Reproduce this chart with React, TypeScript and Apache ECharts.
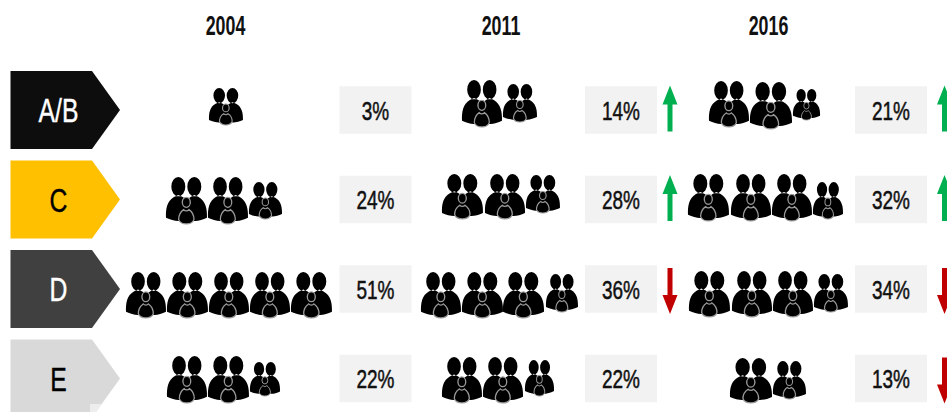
import React, { useEffect, useRef } from "react";
import * as echarts from "echarts";

// ---- values
const years = ["2004", "2011", "2016"];
const segments = ["A/B", "C", "D", "E"];
const sharesAB = [3, 14, 21];
const sharesC = [24, 28, 32];
const sharesD = [51, 36, 34];
const sharesE = [22, 22, 13];
const shares = [sharesAB, sharesC, sharesD, sharesE];
const trendAB = ["", "up", "up"];
const trendC = ["", "up", "up"];
const trendD = ["", "down", "down"];
const trendE = ["", "", "down"];
const trends = [trendAB, trendC, trendD, trendE];

// ---- layout (pixel-valued axes span the whole picture)
const W = 947;
const H = 412;
const rowPx = [110, 199.5, 289, 378.5];
const pxToRow = (y: number) => (y - rowPx[0]) / (rowPx[1] - rowPx[0]);
const headerX = [225.5, 501, 768.5];
const headerY = 26;
const boxX = [339.5, 585, 855];
const BOX_W = 72;
const BOX_H = 47.5;
const arrowX = [0, 670, 944.5];
const chevronColors = ["#0D0D0D", "#FFC000", "#404040", "#D9D9D9"];
const chevronText = ["#FFFFFF", "#000000", "#FFFFFF", "#000000"];
// icon boxes per segment/year: [left, centreY, width, height]
const iconBoxes: number[][][][] = [
  [
    [[209, 106.5, 34, 37]],
    [[462, 103.5, 40, 47], [503, 103, 34, 38]],
    [[709, 104, 40, 46], [750, 105.5, 42, 47], [793, 104.5, 27, 31]],
  ],
  [
    [[166, 200.5, 41, 47], [208, 200.5, 40, 47], [249, 200.5, 33, 37]],
    [[442, 196.5, 41, 45], [485, 196.5, 40, 45], [526, 194, 34, 38]],
    [[688, 197.5, 41, 47], [731, 197.5, 40, 47], [772, 197.5, 40, 47], [813, 200.5, 30, 37]],
  ],
  [
    [[126, 295, 40, 46], [167, 295, 41, 46], [209, 295, 40, 46], [250, 295, 40, 46], [291, 295, 41, 46]],
    [[421, 295, 40, 46], [462, 295, 41, 46], [503, 295, 41, 46], [546, 293, 32, 38]],
    [[689, 294, 41, 46], [732, 294, 40, 46], [773, 294, 40, 46], [814, 293, 34, 38]],
  ],
  [
    [[167, 379.5, 40, 47], [208, 379.5, 41, 47], [250, 379, 30, 34]],
    [[442, 380, 40, 46], [483, 380, 40, 46], [525, 378, 29, 36]],
    [[730, 380.5, 42, 45], [773, 380, 33, 38]],
  ],
];

const ICON_W = 123;
const ICON_H = 141;
const adultsPath =
  "M16,29 a21,29 0 1,0 42,0 a21,29 0 1,0 -42,0 Z " +
  "M64,29 a21,29 0 1,0 42,0 a21,29 0 1,0 -42,0 Z " +
  "M0,122 C-1,95 3,72 24,60 L37,54 L50,60 C56,64 60,68 62,72 C64,68 68,64 74,60 L85,54 L98,60 " +
  "C119,72 124,95 123,122 C112,128 98,131 88,132 L36,132 C26,131 12,128 0,122 Z";
const childPath =
  "M49,76 a12,15 0 1,0 24,0 a12,15 0 1,0 -24,0 Z " +
  "M38,128 C38,112 47,102 53,98 C57,103 65,103 69,98 C75,102 84,112 84,128 C80,138 70,141 61,141 C52,141 42,138 38,128 Z";
echarts.graphic.registerShape("peopleAdults", echarts.graphic.extendPath(adultsPath as any, {}) as any);
echarts.graphic.registerShape("peopleChild", echarts.graphic.extendPath(childPath as any, {}) as any);

const FONT = '"Liberation Sans", Arial, sans-serif';

function buildOption() {
  const iconData: number[][] = [];
  iconBoxes.forEach((row) =>
    row.forEach((cell) => cell.forEach((b) => iconData.push([b[0], pxToRow(b[1]), b[2], b[3]])))
  );
  const shareData: any[] = [];
  const arrowData: any[] = [];
  shares.forEach((row, r) =>
    row.forEach((v, c) => {
      shareData.push([boxX[c] + BOX_W / 2, r, v]);
      if (trends[r][c]) arrowData.push([arrowX[c], r, trends[r][c]]);
    })
  );
  return {
    animation: false,
    backgroundColor: "#FFFFFF",
    grid: { left: 0, top: 0, width: W, height: H, containLabel: false },
    xAxis: { type: "value", min: 0, max: W, show: false },
    yAxis: { type: "value", inverse: true, min: pxToRow(0), max: pxToRow(H), show: false },
    graphic: [
      {
        type: "polygon",
        z: 10,
        shape: { points: [[90, 404], [102, 404], [96, 412], [90, 412]] },
        style: { fill: "#EDEDED" },
      },
    ],
    series: [
      {
        type: "custom",
        coordinateSystem: "cartesian2d",
        silent: true,
        data: segments.map((_s, i) => [i]),
        renderItem: (_p: any, api: any) => {
          const i = api.value(0);
          const [x0, cy] = api.coord([10.5, i]);
          const h = 78;
          const pts = [
            [x0, cy - h / 2],
            [x0 + 81.5, cy - h / 2],
            [x0 + 109.5, cy],
            [x0 + 81.5, cy + h / 2],
            [x0, cy + h / 2],
          ];
          return {
            type: "group",
            children: [
              { type: "polygon", shape: { points: pts }, style: { fill: chevronColors[i] } },
              {
                type: "text",
                x: x0 + 48,
                y: cy + 1,
                scaleX: 0.75,
                style: {
                  text: segments[i],
                  font: `400 33px ${FONT}`,
                  fill: chevronText[i],
                  stroke: chevronText[i],
                  lineWidth: 0.4,
                  textAlign: "center",
                  textVerticalAlign: "middle",
                },
              },
            ],
          };
        },
      },
      {
        type: "custom",
        coordinateSystem: "cartesian2d",
        silent: true,
        data: shareData,
        renderItem: (_p: any, api: any) => {
          const [cx, cy] = api.coord([api.value(0), api.value(1)]);
          return {
            type: "group",
            children: [
              {
                type: "rect",
                shape: { x: cx - BOX_W / 2, y: cy - BOX_H / 2, width: BOX_W, height: BOX_H },
                style: { fill: "#F2F2F2" },
              },
              {
                type: "text",
                x: cx,
                y: cy + 0.5,
                scaleX: 0.73,
                style: {
                  text: `${api.value(2)}%`,
                  font: `400 26px ${FONT}`,
                  fill: "#111111",
                  stroke: "#111111",
                  lineWidth: 0.5,
                  textAlign: "center",
                  textVerticalAlign: "middle",
                },
              },
            ],
          };
        },
      },
      {
        type: "custom",
        coordinateSystem: "cartesian2d",
        silent: true,
        data: arrowData,
        renderItem: (_p: any, api: any) => {
          const [cx, cy] = api.coord([api.value(0), api.value(1)]);
          const up = api.value(2) === "up";
          const s = up ? -1 : 1;
          const dy = up ? -1.5 : 2;
          const half = 23;
          const pts = [
            [cx, cy + dy + s * half],
            [cx + 7.5, cy + dy + s * 4],
            [cx + 2.5, cy + dy + s * 4],
            [cx + 2.5, cy + dy - s * half],
            [cx - 2.5, cy + dy - s * half],
            [cx - 2.5, cy + dy + s * 4],
            [cx - 7.5, cy + dy + s * 4],
          ];
          return { type: "polygon", shape: { points: pts }, style: { fill: up ? "#00B050" : "#C00000" } };
        },
      },
      {
        type: "custom",
        coordinateSystem: "cartesian2d",
        silent: true,
        data: iconData,
        renderItem: (_p: any, api: any) => {
          const [x, cy] = api.coord([api.value(0), api.value(1)]);
          const w = api.value(2);
          const h = api.value(3);
          return {
            type: "group",
            x,
            y: cy - h / 2,
            scaleX: w / ICON_W,
            scaleY: h / ICON_H,
            children: [
              { type: "peopleAdults", style: { fill: "#000000" } },
              { type: "peopleChild", style: { fill: "#000000", stroke: "#9A9A9A", lineWidth: 4 } },
            ],
          };
        },
      },
      {
        type: "custom",
        coordinateSystem: "cartesian2d",
        silent: true,
        data: years.map((_y, i) => [headerX[i], pxToRow(headerY)]),
        renderItem: (p: any, api: any) => {
          const [x, y] = api.coord([api.value(0), api.value(1)]);
          return {
            type: "text",
            x,
            y,
            scaleX: 0.66,
            style: {
              text: years[p.dataIndex],
              font: `700 27px ${FONT}`,
              fill: "#111111",
              textAlign: "center",
              textVerticalAlign: "middle",
            },
          };
        },
      },
    ],
  };
}

export default function App() {
  const ref = useRef<HTMLDivElement>(null);
  useEffect(() => {
    const chart = echarts.init(ref.current!, null, { renderer: "svg" });
    chart.setOption(buildOption() as any);
    return () => chart.dispose();
  }, []);
  return <div ref={ref} style={{ position: "absolute", left: 0, top: 0, width: W, height: H }} />;
}
